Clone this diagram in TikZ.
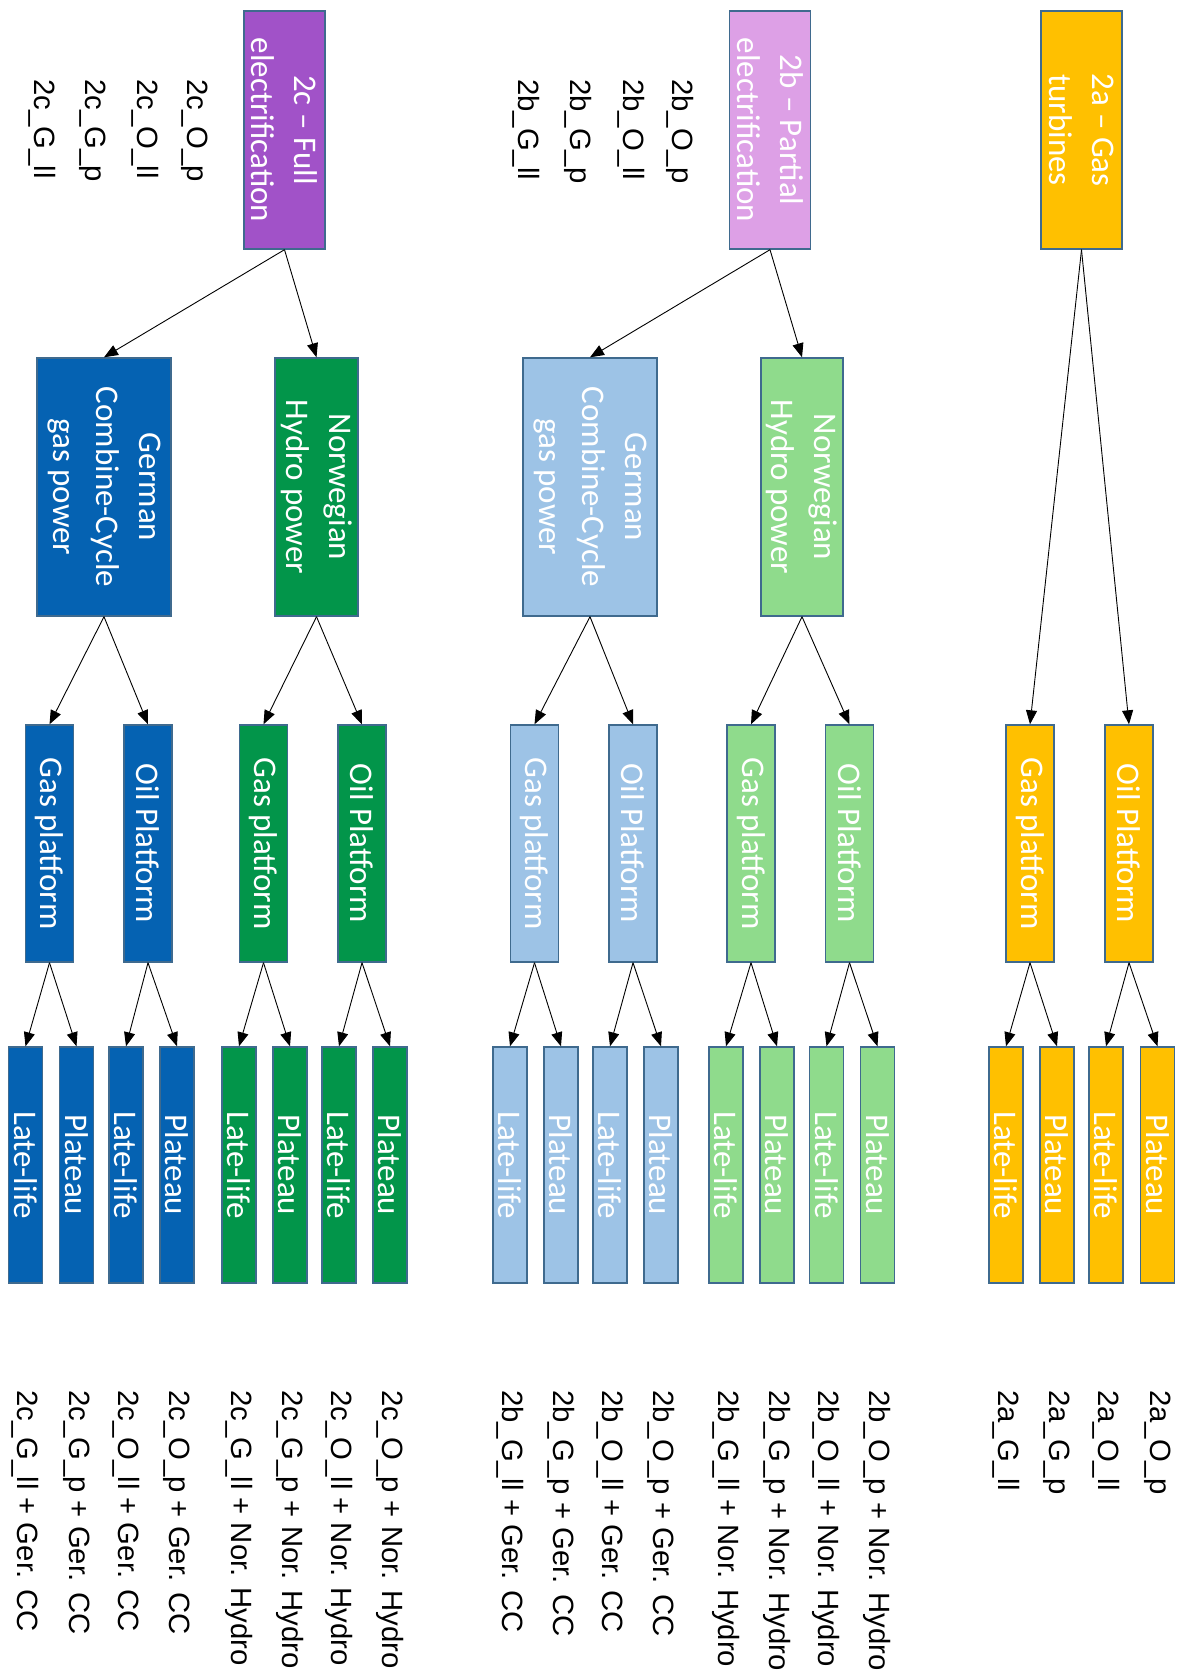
\documentclass[tikz,border=0pt]{standalone}
\usepackage{fontspec}
\usetikzlibrary{arrows.meta}
\newfontfamily\boxfont{Carlito}
\newfontfamily\labfont{Liberation Sans}
\definecolor{yel}{HTML}{FFC000}
\definecolor{purD}{HTML}{A152C8}
\definecolor{purL}{HTML}{DDA0E6}
\definecolor{bluD}{HTML}{0562B2}
\definecolor{grnD}{HTML}{02954A}
\definecolor{bluL}{HTML}{9DC3E6}
\definecolor{grnL}{HTML}{8FDB8C}
\definecolor{bord}{HTML}{3F6A8E}
\tikzset{
  bx/.style={draw=bord, line width=1.4pt, rotate=-90, inner sep=0pt, align=center,
    text=white, font=\boxfont\fontsize{33}{43}\selectfont},
  top/.style={bx, minimum width=238pt, minimum height=81pt},
  src/.style={bx, minimum width=258pt},
  plat/.style={bx, minimum width=237pt, minimum height=48pt},
  leaf/.style={bx, minimum width=236pt, minimum height=34pt},
  lab/.style={rotate=-90, anchor=west, inner sep=0pt, text=black,
    font=\labfont\fontsize{29.3}{35}\selectfont},
  arr/.style={line width=0.9pt, -{Triangle[length=14pt,width=11pt]}}
}
\begin{document}
\begin{tikzpicture}[x=1pt,y=-1pt]
\useasboundingbox (0,0) rectangle (1182,1680);
\fill[white] (0,0) rectangle (1182,1680);
% level 0
\node[top, fill=yel]  (A0) at (1081.5,130) {2a – Gas\\turbines};
\node[top, fill=purL] (B0) at (770,130) {2b – Partial\\electrification};
\node[top, fill=purD] (C0) at (284.5,130) {2c – Full\\electrification};
% level 1
\node[src, minimum height=134pt, fill=bluD] (cGer) at (104,487) {German\\Combine-Cycle\\gas power};
\node[src, minimum height=83pt, fill=grnD] (cNor) at (316.5,487) {Norwegian\\Hydro power};
\node[src, minimum height=134pt, fill=bluL] (bGer) at (590,487) {German\\Combine-Cycle\\gas power};
\node[src, minimum height=82pt, fill=grnL] (bNor) at (802,487) {Norwegian\\Hydro power};
% level 2
\node[plat, fill=bluD] (cGG) at (49.5,843.5) {Gas platform};
\node[plat, fill=bluD] (cGO) at (148,843.5) {Oil Platform};
\node[plat, fill=grnD] (cNG) at (263.5,843.5) {Gas platform};
\node[plat, fill=grnD] (cNO) at (362,843.5) {Oil Platform};
\node[plat, fill=bluL] (bGG) at (534.5,843.5) {Gas platform};
\node[plat, fill=bluL] (bGO) at (633,843.5) {Oil Platform};
\node[plat, fill=grnL] (bNG) at (751,843.5) {Gas platform};
\node[plat, fill=grnL] (bNO) at (849.5,843.5) {Oil Platform};
\node[plat, fill=yel] (aG) at (1030,843.5) {Gas platform};
\node[plat, fill=yel] (aO) at (1129,843.5) {Oil Platform};
% level 3
\node[leaf, fill=bluD] (cGGl) at (25.5,1165) {Late-life};
\node[leaf, fill=bluD] (cGGp) at (76.5,1165) {Plateau};
\node[leaf, fill=bluD] (cGOl) at (126,1165) {Late-life};
\node[leaf, fill=bluD] (cGOp) at (177,1165) {Plateau};
\node[leaf, fill=grnD] (cNGl) at (239,1165) {Late-life};
\node[leaf, fill=grnD] (cNGp) at (290,1165) {Plateau};
\node[leaf, fill=grnD] (cNOl) at (339,1165) {Late-life};
\node[leaf, fill=grnD] (cNOp) at (390,1165) {Plateau};
\node[leaf, fill=bluL] (bGGl) at (510,1165) {Late-life};
\node[leaf, fill=bluL] (bGGp) at (561,1165) {Plateau};
\node[leaf, fill=bluL] (bGOl) at (610,1165) {Late-life};
\node[leaf, fill=bluL] (bGOp) at (661,1165) {Plateau};
\node[leaf, fill=grnL] (bNGl) at (726,1165) {Late-life};
\node[leaf, fill=grnL] (bNGp) at (777,1165) {Plateau};
\node[leaf, fill=grnL] (bNOl) at (826.5,1165) {Late-life};
\node[leaf, fill=grnL] (bNOp) at (877.5,1165) {Plateau};
\node[leaf, fill=yel] (aGl) at (1006,1165) {Late-life};
\node[leaf, fill=yel] (aGp) at (1057,1165) {Plateau};
\node[leaf, fill=yel] (aOl) at (1106,1165) {Late-life};
\node[leaf, fill=yel] (aOp) at (1157.5,1165) {Plateau};
% connectors
\foreach \p/\c in {A0/aG, A0/aO, B0/bGer, B0/bNor, C0/cGer, C0/cNor,
  cGer/cGG, cGer/cGO, cNor/cNG, cNor/cNO, bGer/bGG, bGer/bGO, bNor/bNG, bNor/bNO,
  cGG/cGGl, cGG/cGGp, cGO/cGOl, cGO/cGOp, cNG/cNGl, cNG/cNGp, cNO/cNOl, cNO/cNOp,
  bGG/bGGl, bGG/bGGp, bGO/bGOl, bGO/bGOp, bNG/bNGl, bNG/bNGp, bNO/bNOl, bNO/bNOp,
  aG/aGl, aG/aGp, aO/aOl, aO/aOp}
  \draw[arr] (\p.east) -- (\c.west);
% top labels
\node[lab] (t1) at (195,79) {2c\_O\_p};
\node[lab] (t2) at (145,79) {2c\_O\_ll};
\node[lab] (t3) at (93,79) {2c\_G\_p};
\node[lab] (t4) at (42,79) {2c\_G\_ll};
\node[lab] (t5) at (680,79) {2b\_O\_p};
\node[lab] (t6) at (631,79) {2b\_O\_ll};
\node[lab] (t7) at (578,79) {2b\_G\_p};
\node[lab] (t8) at (526,79) {2b\_G\_ll};
% bottom labels
\coordinate (brow) at (0,1390);
\node[lab] (u1) at (aOp |- brow) {2a\_O\_p};
\node[lab] (u2) at (aOl |- brow) {2a\_O\_ll};
\node[lab] (u3) at (aGp |- brow) {2a\_G\_p};
\node[lab] (u4) at (aGl |- brow) {2a\_G\_ll};
\node[lab] (u5) at (bNOp |- brow) {2b\_O\_p + Nor. Hydro};
\node[lab] (u6) at (bNOl |- brow) {2b\_O\_ll + Nor. Hydro};
\node[lab] (u7) at (bNGp |- brow) {2b\_G\_p + Nor. Hydro};
\node[lab] (u8) at (bNGl |- brow) {2b\_G\_ll + Nor. Hydro};
\node[lab] (u9) at (bGOp |- brow) {2b\_O\_p + Ger. CC};
\node[lab] (u10) at (bGOl |- brow) {2b\_O\_ll + Ger. CC};
\node[lab] (u11) at (bGGp |- brow) {2b\_G\_p + Ger. CC};
\node[lab] (u12) at (bGGl |- brow) {2b\_G\_ll + Ger. CC};
\node[lab] (u13) at (cNOp |- brow) {2c\_O\_p + Nor. Hydro};
\node[lab] (u14) at (cNOl |- brow) {2c\_O\_ll + Nor. Hydro};
\node[lab] (u15) at (cNGp |- brow) {2c\_G\_p + Nor. Hydro};
\node[lab] (u16) at (cNGl |- brow) {2c\_G\_ll + Nor. Hydro};
\node[lab] (u17) at (cGOp |- brow) {2c\_O\_p + Ger. CC};
\node[lab] (u18) at (cGOl |- brow) {2c\_O\_ll + Ger. CC};
\node[lab] (u19) at (cGGp |- brow) {2c\_G\_p + Ger. CC};
\node[lab] (u20) at (cGGl |- brow) {2c\_G\_ll + Ger. CC};
\end{tikzpicture}
\end{document}
